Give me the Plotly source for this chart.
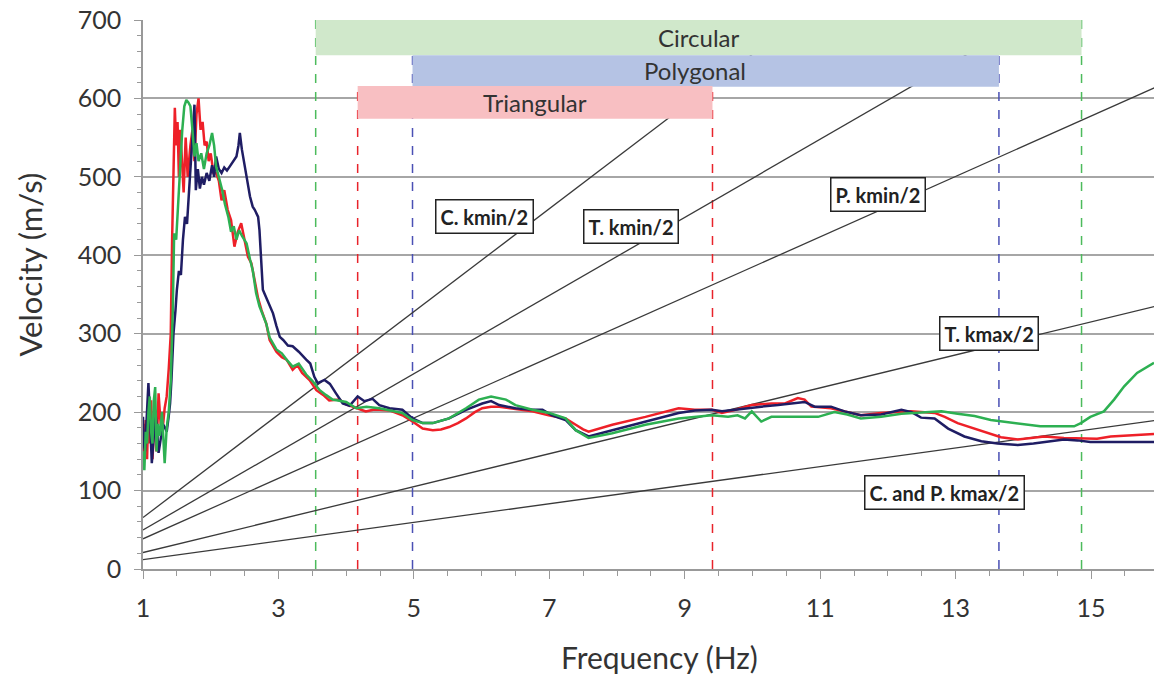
import plotly.graph_objects as go

# ---------------- data ----------------
red_f = [1.00,1.02,1.04,1.06,1.08,1.10,1.12,1.14,1.16,1.18,1.20,1.23,1.26,1.29,1.32,1.35,1.38,1.41,1.43,1.45,1.47,1.49,1.51,1.53,1.55,1.57,1.60,1.63,1.66,1.70,1.73,1.76,1.79,1.82,1.85,1.88,1.91,1.94,1.97,2.00,2.04,2.08,2.12,2.16,2.20,2.25,2.30,2.35,2.40,2.45,2.50,2.55,2.60,2.65,2.70,2.75,2.82,2.87,2.92,2.97,3.05,3.12,3.21,3.28,3.35,3.41,3.46,3.56,3.66,3.75,3.90,4.00,4.10,4.20,4.29,4.40,4.49,4.65,4.83,4.98,5.13,5.28,5.40,5.52,5.65,5.77,5.90,6.01,6.14,6.26,6.50,6.75,6.99,7.15,7.24,7.39,7.50,7.58,7.93,8.42,8.91,9.15,9.40,9.55,9.75,9.99,10.28,10.48,10.67,10.77,10.87,11.16,11.36,11.60,11.90,12.10,12.34,12.69,12.84,13.03,13.28,13.52,13.67,13.92,14.15,14.31,14.60,14.90,15.09,15.29,15.50,15.93]
red_v = [185,143,190,140,205,160,215,140,175,200,150,224,185,178,205,220,255,300,420,520,588,540,570,500,560,530,480,550,500,540,560,520,580,600,560,570,540,545,520,530,505,505,495,470,483,458,445,411,430,441,420,398,390,365,345,330,313,292,285,277,270,267,254,260,250,245,241,228,222,215,216,210,207,203,201,203,203,202,196,188,179,177,178,181,186,192,200,205,207,207,204,201,196,194,192,184,178,175,184,194,205,203,203,199,203,209,211,211,218,216,207,205,201,196,199,200,201,199,194,186,179,173,168,165,167,169,167,166,166,169,170,172]

navy_f = [1.00,1.01,1.03,1.05,1.08,1.10,1.13,1.16,1.18,1.21,1.23,1.26,1.29,1.32,1.35,1.38,1.40,1.42,1.45,1.48,1.50,1.53,1.56,1.59,1.62,1.65,1.68,1.71,1.74,1.76,1.78,1.81,1.84,1.87,1.90,1.94,1.98,2.02,2.05,2.08,2.12,2.16,2.20,2.24,2.28,2.33,2.38,2.41,2.43,2.46,2.48,2.53,2.58,2.62,2.65,2.70,2.72,2.75,2.77,2.80,2.85,2.92,2.97,3.02,3.07,3.14,3.21,3.30,3.41,3.47,3.53,3.58,3.68,3.76,3.85,3.95,4.05,4.17,4.27,4.39,4.49,4.64,4.83,4.98,5.13,5.28,5.52,5.77,6.01,6.14,6.26,6.50,6.75,6.90,7.04,7.24,7.39,7.58,7.93,8.42,8.91,9.15,9.40,9.55,9.89,10.13,10.38,10.60,10.77,10.92,11.16,11.36,11.60,11.90,12.20,12.35,12.49,12.69,12.89,13.13,13.38,13.62,13.92,14.15,14.31,14.60,14.80,14.99,15.40,15.93]
navy_v = [194,160,150,185,237,200,135,170,203,175,148,165,185,181,175,195,211,241,300,330,356,380,375,420,449,440,480,520,568,592,483,510,485,500,490,505,495,515,500,526,510,505,512,508,513,520,526,540,556,535,526,500,475,462,458,449,432,390,356,350,340,326,310,296,292,285,284,277,267,262,245,237,241,236,224,211,208,220,214,217,209,205,203,192,186,186,192,203,211,214,209,205,203,203,196,190,177,169,177,188,199,202,203,201,205,207,209,211,213,207,207,201,196,197,203,200,193,192,179,169,163,160,158,160,162,165,164,162,162,162]

green_f = [1.00,1.02,1.04,1.06,1.08,1.10,1.12,1.14,1.16,1.18,1.20,1.22,1.25,1.28,1.32,1.35,1.38,1.41,1.44,1.46,1.49,1.52,1.55,1.58,1.61,1.64,1.67,1.70,1.73,1.76,1.79,1.82,1.86,1.90,1.94,1.98,2.02,2.05,2.08,2.12,2.17,2.21,2.26,2.30,2.34,2.38,2.42,2.46,2.53,2.58,2.62,2.67,2.72,2.82,2.87,2.97,3.05,3.12,3.21,3.30,3.41,3.50,3.61,3.70,3.80,4.00,4.15,4.30,4.49,4.65,4.83,4.98,5.13,5.28,5.52,5.77,5.96,6.14,6.36,6.50,6.75,7.00,7.24,7.39,7.58,7.93,8.42,8.91,9.40,9.64,9.78,9.89,9.99,10.13,10.28,10.60,10.97,11.21,11.40,11.60,11.90,12.20,12.50,12.79,13.03,13.28,13.52,13.77,14.01,14.25,14.50,14.75,14.85,14.99,15.19,15.34,15.49,15.68,15.93]
green_v = [150,126,175,160,200,220,175,160,215,232,150,185,170,200,135,180,200,240,330,428,420,470,520,560,590,598,595,590,560,526,543,520,530,510,530,540,556,540,513,500,483,465,449,430,437,420,432,425,415,395,381,352,335,313,295,280,275,267,258,262,248,240,228,222,216,213,205,207,205,202,199,190,186,186,192,205,216,220,216,209,203,199,192,177,167,173,184,192,196,194,196,192,201,188,194,194,194,200,197,192,194,198,200,201,198,195,190,187,184,182,182,182,186,194,201,216,233,250,263]

# reference lines (velocity at f = 1 and f = 16)
ref_names = ["C. kmin/2", "T. kmin/2", "P. kmin/2", "T. kmax/2", "C. and P. kmax/2"]
ref_f = [1, 16]
ref_v_start = [65.6, 49.8, 38.5, 21.0, 11.9]
ref_v_end = [1050, 797, 616, 336, 190]

# label boxes for reference lines
ref_label_f = [6.04, 8.20, 11.85, 13.49, 12.83]
ref_label_v = [449, 437, 478, 300, 97]

# frequency bands
band_names = ["Circular", "Polygonal", "Triangular"]
band_f0 = [3.55, 4.98, 4.17]
band_f1 = [14.86, 13.64, 9.41]
band_v0 = [655, 615, 574]
band_v1 = [700, 655, 616]
band_fill = ["#d0e8cb", "#b5c3e4", "#f8bfc2"]
band_dash = ["#4cbb5c", "#4a50b4", "#e8232b"]
band_label_f = [9.2, 9.15, 6.79]

x_ticks = [1, 3, 5, 7, 9, 11, 13, 15]
y_ticks = [0, 100, 200, 300, 400, 500, 600, 700]

FONT = "Lato"
fig = go.Figure()

for v0, v1 in zip(ref_v_start, ref_v_end):
    fig.add_trace(go.Scatter(x=ref_f, y=[v0, v1], mode="lines",
                             line=dict(color="#3a3a3a", width=1.3),
                             hoverinfo="skip", showlegend=False))

for fx, vy, col in [(red_f, red_v, "#ee2028"), (navy_f, navy_v, "#1f1d64"), (green_f, green_v, "#2db052")]:
    fig.add_trace(go.Scatter(x=fx, y=vy, mode="lines",
                             line=dict(color=col, width=2.5), showlegend=False))

# dashed vertical lines (below bands)
for f0, f1, v1, col in zip(band_f0, band_f1, band_v1, band_dash):
    for f in (f0, f1):
        fig.add_shape(type="line", x0=f, x1=f, y0=0, y1=v1, xref="x", yref="y",
                      line=dict(color=col, width=1.5, dash="dash"), layer="between")

# bands
for name, f0, f1, v0, v1, fc, lf in zip(band_names, band_f0, band_f1, band_v0, band_v1, band_fill, band_label_f):
    fig.add_shape(type="rect", x0=f0, x1=f1, y0=v0, y1=v1, xref="x", yref="y",
                  fillcolor=fc, line=dict(width=0), layer="above")
    fig.add_annotation(x=lf, y=(v0 + v1) / 2, text=name, showarrow=False,
                       font=dict(family=FONT, size=24, color="#333333"))

for name, lf, lv in zip(ref_names, ref_label_f, ref_label_v):
    fig.add_annotation(x=lf, y=lv, text="<b>" + name + "</b>", showarrow=False,
                       font=dict(family=FONT, size=20, color="#222222"),
                       bgcolor="white", bordercolor="#222222", borderwidth=1.5, borderpad=4)

fig.add_annotation(text="Velocity (m/s)", xref="paper", yref="paper", x=-0.112, y=0.554,
                   textangle=-90, showarrow=False, xanchor="center", yanchor="middle",
                   font=dict(family=FONT, size=31, color="#333333"))
fig.add_annotation(text="Frequency (Hz)", xref="paper", yref="paper", x=0.511, y=-0.124,
                   showarrow=False, xanchor="center", yanchor="top",
                   font=dict(family=FONT, size=30, color="#333333"))

fig.update_layout(
    width=1154, height=679,
    margin=dict(l=143, r=0, t=20, b=110),
    paper_bgcolor="white", plot_bgcolor="white",
    font=dict(family=FONT, color="#333333"),
    showlegend=False,
)
fig.update_xaxes(range=[1, 15.93], tickvals=x_ticks, ticks="outside", ticklen=8,
                 tickcolor="#999999", showgrid=False, showline=True, linecolor="#999999",
                 linewidth=1.5, zeroline=False, tickfont=dict(family=FONT, size=25, color="#333333"),
                 ticklabelstandoff=8,
                 minor=dict(dtick=0.5, tick0=1, ticks="outside", ticklen=5, tickcolor="#999999"))
fig.update_yaxes(range=[0, 700], tickvals=y_ticks, ticks="outside", ticklen=7,
                 tickcolor="#999999", showgrid=True, gridcolor="#a6a6a6", gridwidth=1.5,
                 showline=True, linecolor="#999999", linewidth=1.5, zeroline=False,
                 tickfont=dict(family=FONT, size=25, color="#333333"), ticklabelstandoff=8,
                 minor=dict(dtick=20, ticks="outside", ticklen=4, tickcolor="#999999", showgrid=False))

fig.write_html("out.html")
